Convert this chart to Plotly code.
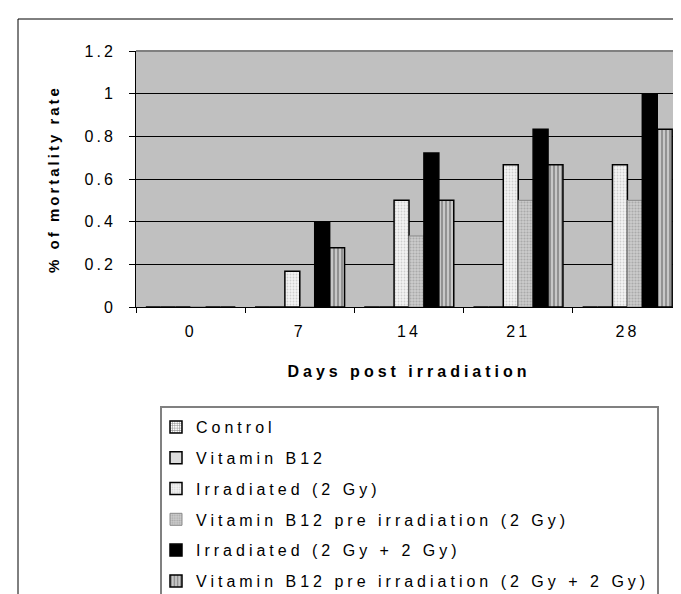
import plotly.graph_objects as go

days = ["0", "7", "14", "21", "28"]
series_names = [
    "Control",
    "Vitamin B12",
    "Irradiated (2 Gy)",
    "Vitamin B12 pre irradiation (2 Gy)",
    "Irradiated (2 Gy + 2 Gy)",
    "Vitamin B12 pre irradiation (2 Gy + 2 Gy)",
]
control = [0, 0, 0, 0, 0]
vit_b12 = [0, 0, 0, 0, 0]
irradiated_2 = [0, 0.167, 0.5, 0.667, 0.667]
vit_pre_2 = [0, 0, 0.333, 0.5, 0.5]
irradiated_4 = [0, 0.4, 0.722, 0.833, 1.0]
vit_pre_4 = [0, 0.278, 0.5, 0.667, 0.833]
y_ticks = [0, 0.2, 0.4, 0.6, 0.8, 1, 1.2]
y_tick_labels = ["0", "0.2", "0.4", "0.6", "0.8", "1", "1.2"]

values = [control, vit_b12, irradiated_2, vit_pre_2, irradiated_4, vit_pre_4]
styles = [
    dict(color="white", pattern=dict(shape="+", fgcolor="black", bgcolor="white", size=3, solidity=0.35), line=dict(color="black", width=1.5)),
    dict(color="white", pattern=dict(shape=".", fgcolor="#606060", bgcolor="white", size=2, solidity=0.5), line=dict(color="black", width=1.5)),
    dict(color="white", pattern=dict(shape=".", fgcolor="#a8a8a8", bgcolor="#f4f4f4", size=3, solidity=0.3), line=dict(color="black", width=1.5)),
    dict(color="#c0c0c0", pattern=dict(shape=".", fgcolor="#888888", bgcolor="#cccccc", size=3, solidity=0.4), line=dict(color="#8a8a8a", width=1)),
    dict(color="black", line=dict(color="black", width=1.5)),
    dict(color="#b0b0b0", pattern=dict(shape="|", fgcolor="#404040", bgcolor="#c8c8c8", size=4, solidity=0.4), line=dict(color="black", width=1.5)),
]

FONT = "Liberation Sans, Arial, sans-serif"
fig = go.Figure()
for i, (name, vals, st) in enumerate(zip(series_names, values, styles)):
    fig.add_trace(go.Bar(x=days, y=vals, name=name, marker=st, legendgroup=f"g{i}"))

W, H = 681, 594
L, R, T, B = 128, 674, 43, 299


def px_x(p):
    return (p - L) / (R - L)


def px_y(p):
    return (B - p) / (B - T)


shapes = [
    # outer chart border (extends beyond the visible page)
    dict(type="rect", xref="paper", yref="paper", x0=px_x(10), x1=px_x(720), y0=px_y(640), y1=px_y(11),
         line=dict(color="black", width=1), layer="below"),
    # plot area border (top and right)
    dict(type="path", xref="paper", yref="paper",
         path="M 0 1 L 1 1 L 1 0", line=dict(color="#808080", width=2), layer="above"),
    # legend border
    dict(type="rect", xref="paper", yref="paper", x0=px_x(153), x1=px_x(650), y0=px_y(640), y1=px_y(399),
         line=dict(color="#808080", width=2), layer="below"),
]

fig.update_layout(
    width=W, height=H,
    margin=dict(l=L, r=W - R, t=T, b=H - B, autoexpand=False),
    paper_bgcolor="white",
    plot_bgcolor="#c0c0c0",
    font=dict(family=FONT, size=16, color="black"),
    barmode="group",
    bargap=0.18,
    bargroupgap=0,
    shapes=shapes,
    showlegend=True,
    legend=dict(
        x=px_x(148), y=px_y(402), xanchor="left", yanchor="top",
        bgcolor="rgba(0,0,0,0)", borderwidth=0,
        font=dict(family=FONT, size=16, color="black"),
        tracegroupgap=7, traceorder="grouped",
    ),
    xaxis=dict(
        showgrid=False, showline=True, linecolor="black", linewidth=1,
        ticks="outside", ticklen=5, tickcolor="black", tickson="boundaries",
        tickfont=dict(size=16), ticklabelstandoff=10,
        title=dict(text="<b>Days post irradiation</b>", font=dict(size=16), standoff=26),
        automargin=False,
    ),
    yaxis=dict(
        range=[0, 1.2], tickvals=y_ticks, ticktext=y_tick_labels,
        showgrid=True, gridcolor="black", gridwidth=1,
        showline=True, linecolor="black", linewidth=1,
        ticks="outside", ticklen=6, tickcolor="black",
        tickfont=dict(size=16), ticklabelstandoff=10,
        zeroline=False,
        title=dict(text="<b>% of mortality rate</b>", font=dict(size=15), standoff=30),
        automargin=False,
    ),
)

post = """
var gd = document.getElementById('{plot_id}');
var st = document.createElement('style');
st.textContent = '.legendtext{letter-spacing:4px} .xtick text, .ytick text{letter-spacing:3px} .xtitle{letter-spacing:4px} .ytitle{letter-spacing:3px}';
document.head.appendChild(st);
gd.querySelectorAll('.legend .scrollbox, .legend').forEach(function(e){e.removeAttribute('clip-path');});
"""

fig.write_html("out.html", post_script=post)
